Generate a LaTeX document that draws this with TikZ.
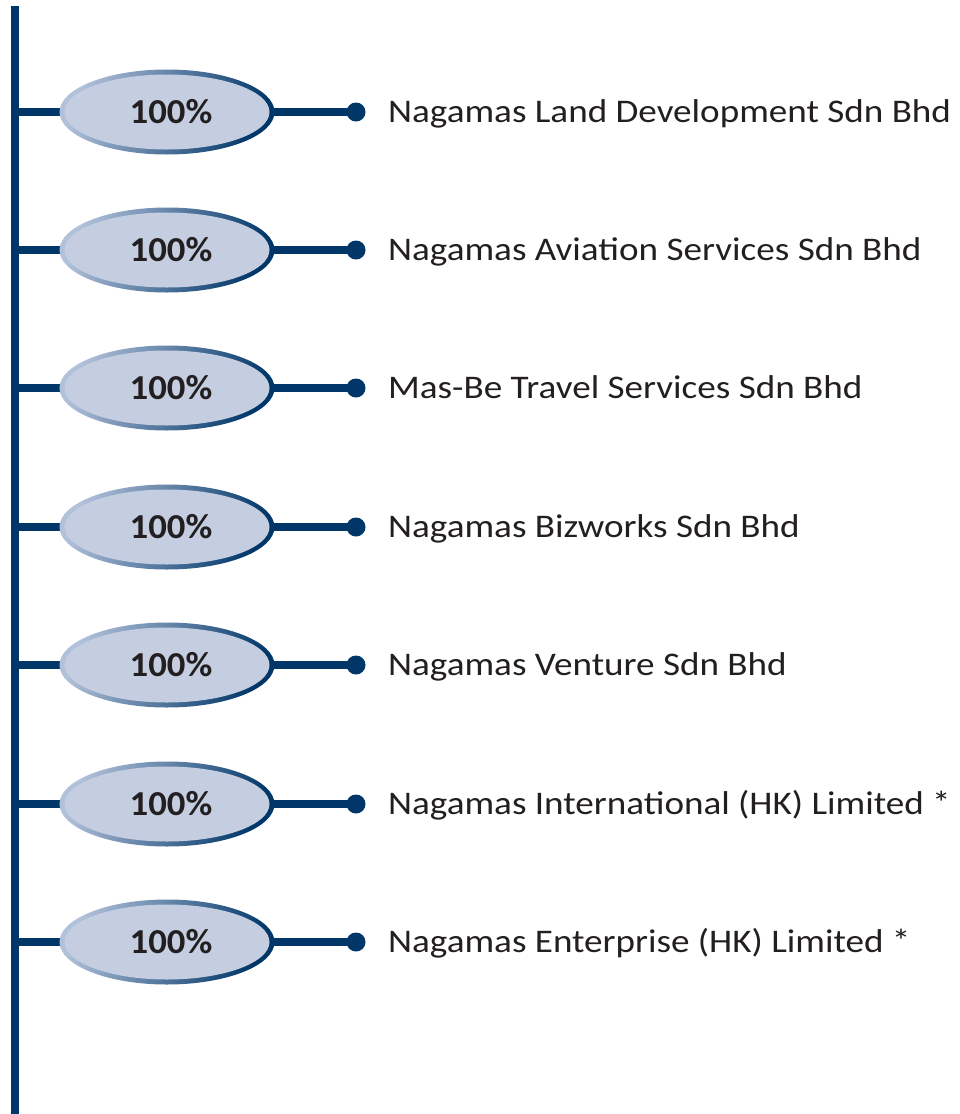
\documentclass[tikz,border=0pt]{standalone}
\usepackage{fontspec}
\setmainfont{Carlito}[FakeStretch=1.125]
\newfontfamily\pctfont{Carlito}[FakeStretch=1.05]
\usetikzlibrary{shapes.geometric}
\definecolor{navy}{RGB}{0,54,104}
\definecolor{ovalfill}{RGB}{197,206,225}
\definecolor{ovallight}{RGB}{178,193,218}
\definecolor{ovalmid}{RGB}{70,105,152}
\definecolor{txt}{RGB}{35,31,32}
\tikzset{
  spine/.style={navy, line width=8pt},
  link/.style={navy, line width=8pt},
  oval/.style={ellipse, minimum width=215pt, minimum height=85pt, inner sep=0pt,
    left color=ovallight, middle color=ovalmid, right color=navy, shading angle=70,
    path picture={\fill[ovalfill] (path picture bounding box.center) ellipse [x radius=102.5pt, y radius=37.5pt];},
    font=\pctfont\fontsize{35}{40}\selectfont\bfseries, text=txt},
  label/.style={anchor=base west, inner sep=0pt, font=\fontsize{33}{40}\selectfont, text=txt},
  enddot/.style={navy}
}
\begin{document}
\begin{tikzpicture}[x=1pt,y=-1pt]
\useasboundingbox (0,0) rectangle (960,1114);
\coordinate (top) at (15,6);
\coordinate (bot) at (15,1114);
\draw[spine] (top) -- (bot);
\foreach \y/\name [count=\i] in {112/Nagamas Land Development Sdn Bhd,
  250/Nagamas Aviation Services Sdn Bhd,
  388/Mas-Be Travel Services Sdn Bhd,
  527/Nagamas Bizworks Sdn Bhd,
  665/Nagamas Venture Sdn Bhd,
  804/Nagamas International (HK) Limited *,
  942/Nagamas Enterprise (HK) Limited *}{
  \coordinate (s\i) at (15,\y);
  \coordinate (d\i) at (356,\y);
  \draw[link] (s\i) -- (167,\y);
  \draw[link] (167,\y) -- (d\i);
  \node[oval] (o\i) at (167,\y) {\hspace{8pt}100\%};
  \fill[enddot] (d\i) circle (9.5pt);
  \node[label] (t\i) at (388,\y+10.5) {\name};
}
\end{tikzpicture}
\end{document}
